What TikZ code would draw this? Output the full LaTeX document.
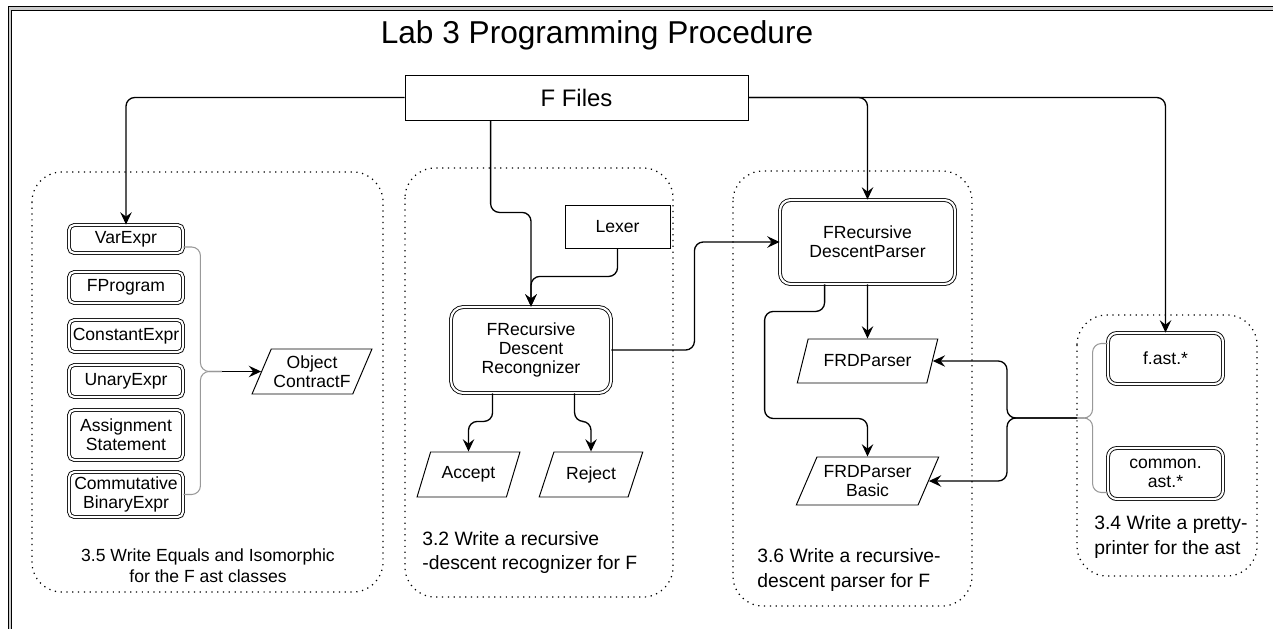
\documentclass[tikz,border=0pt]{standalone}
\usepackage{fontspec}
\setmainfont{Liberation Sans}
\usetikzlibrary{arrows.meta,shapes.geometric,calc}

\tikzset{
	dbox/.style={draw, double, double distance=1.2pt, line width=0.5pt, rounded corners=3pt, align=center, inner sep=1pt, minimum width=2.28cm},
	pbox/.style={draw, line width=0.55pt, trapezium, trapezium left angle=62, trapezium right angle=118, trapezium stretches=true, align=center, inner sep=1pt},
	sbox/.style={draw, line width=0.5pt, inner sep=0pt},
	taskarea/.style={draw, line width=0.7pt, dash pattern=on 0.7pt off 2.6pt, rounded corners=17pt},
	arr/.style={-{Stealth[length=7pt,width=6.5pt,inset=2.5pt]}, line width=0.75pt, rounded corners=5pt},
	feed/.style={draw=gray!80, line width=0.6pt, rounded corners=5pt},
	note/.style={font=\fontsize{11}{14}\selectfont, align=left, inner sep=0pt, anchor=west},
}

\begin{document}
\begin{tikzpicture}[x=0.02cm, y=-0.02cm, font=\fontsize{10}{11}\selectfont]
				\useasboundingbox (0,0) rectangle (1273,629);
				\draw[line width=0.5pt, double=gray!40, double distance=1.3pt] (1273,8.5) -- (10,8.5) -- (10,629);

				\node[anchor=base, font=\fontsize{18}{22}\selectfont] (title) at (597,43) {Lab 3 Programming Procedure};
				\node[sbox, minimum width=6.86cm, minimum height=0.9cm, font=\fontsize{13.6}{16}\selectfont] (files) at (576.5,97.5) {F Files};

				\draw[taskarea] (32,172) rectangle (383,592);
				\draw[taskarea] (405,168) rectangle (673,597);
				\draw[taskarea] (733,171) rectangle (972,606);
				\draw[taskarea] (1077,315) rectangle (1257,576);

				\node[dbox, minimum height=0.56cm] (varexpr) at (126,239) {VarExpr};
				\node[dbox, minimum height=0.62cm] (fprogram) at (126,287.5) {FProgram};
				\node[dbox, minimum height=0.64cm] (constexpr) at (126,336) {ConstantExpr};
				\node[dbox, minimum height=0.64cm] (unaryexpr) at (126,381) {UnaryExpr};
				\node[dbox, minimum height=1.0cm] (assign) at (126,435) {Assignment\\Statement};
				\node[dbox, minimum height=0.9cm] (commbin) at (126,494.5) {Commutative\\BinaryExpr};
				\node[pbox, minimum width=2.4cm, minimum height=0.9cm] (contract) at (312,371.5) {Object\\ContractF};
				\node[align=center, font=\fontsize{10}{12}\selectfont] (label35) at (208,566) {3.5 Write Equals and Isomorphic\\for the F ast classes};
				\coordinate (joinL) at (222,371.5);

				\node[sbox, minimum width=2.1cm, minimum height=0.86cm] (lexer) at (617.5,226.5) {Lexer};
				\node[dbox, rounded corners=7pt, minimum width=3.2cm, minimum height=1.72cm] (recog) at (531,350) {FRecursive\\Descent\\Recongnizer};
				\node[pbox, minimum width=2.06cm, minimum height=0.9cm] (accept) at (468.5,474.5) {Accept};
				\node[pbox, minimum width=2.08cm, minimum height=0.9cm] (reject) at (591,474.5) {Reject};
				\node[note] (label32) at (422,552.5) {3.2 Write a recursive\\-descent recognizer for F};

				\node[dbox, rounded corners=6pt, minimum width=3.5cm, minimum height=1.68cm] (parser) at (867.5,242) {FRecursive\\DescentParser};
				\node[pbox, minimum width=2.82cm, minimum height=0.88cm] (frd) at (867.5,361) {FRDParser};
				\node[pbox, minimum width=2.86cm, minimum height=0.96cm] (frdbasic) at (867.5,481) {FRDParser\\Basic};
				\node[note] (label36) at (757,570) {3.6 Write a recursive-\\descent parser for F};

				\node[dbox, rounded corners=5pt, minimum width=2.3cm, minimum height=1.02cm] (fast) at (1165.5,358.5) {f.ast.*};
				\node[dbox, rounded corners=5pt, minimum width=2.3cm, minimum height=1.02cm] (commonast) at (1165.5,473.5) {common.\\ast.*};
				\node[note] (label34) at (1094,537) {3.4 Write a pretty-\\printer for the ast};
				\coordinate (joinR) at (1077,418);

				\draw[arr] (files.west) -| (varexpr.north);
				\draw[arr] ($(files.south west)+(86,0)$) -- ++(0,92) -| (recog.north);
				\draw[arr] (lexer.south) -- ++(0,28) -| (recog.north);
				\draw[arr] (files.east) -| (parser.north);
				\draw[arr] (files.east) -| (fast.north);
				\draw[arr] (recog.east) -- ++(83,0) |- (parser.west);
				\draw[arr] ($(recog.south west)+(42,0)$) -- ++(0,28) -| (accept.north);
				\draw[arr] ($(recog.south west)+(124,0)$) -- ++(0,28) -| (reject.north);
				\draw[arr] (parser.south) -- (frd.north);
				\draw[arr] ($(parser.south west)+(45,0)$) -- ++(0,27) -- ++(-60,0) |- ($(frdbasic.north)+(0,-38)$) -- (frdbasic.north);

				\draw[feed] ($(varexpr.east)+(0,8)$) -- ++(17,0) |- (joinL);
				\draw[feed] (commbin.east) -- ++(17,0) |- (joinL);
				\draw[arr] (joinL) -- (contract.west);

				\draw[feed] ($(fast.west)+(0,-15)$) -- ++(-15,0) |- (joinR);
				\draw[feed] ($(commonast.west)+(0,19)$) -- ++(-15,0) |- (joinR);
				\draw[arr] (joinR) -- ++(-70,0) |- (frd.east);
				\draw[arr] (joinR) -- ++(-70,0) |- (frdbasic.east);
			\end{tikzpicture}
\end{document}
